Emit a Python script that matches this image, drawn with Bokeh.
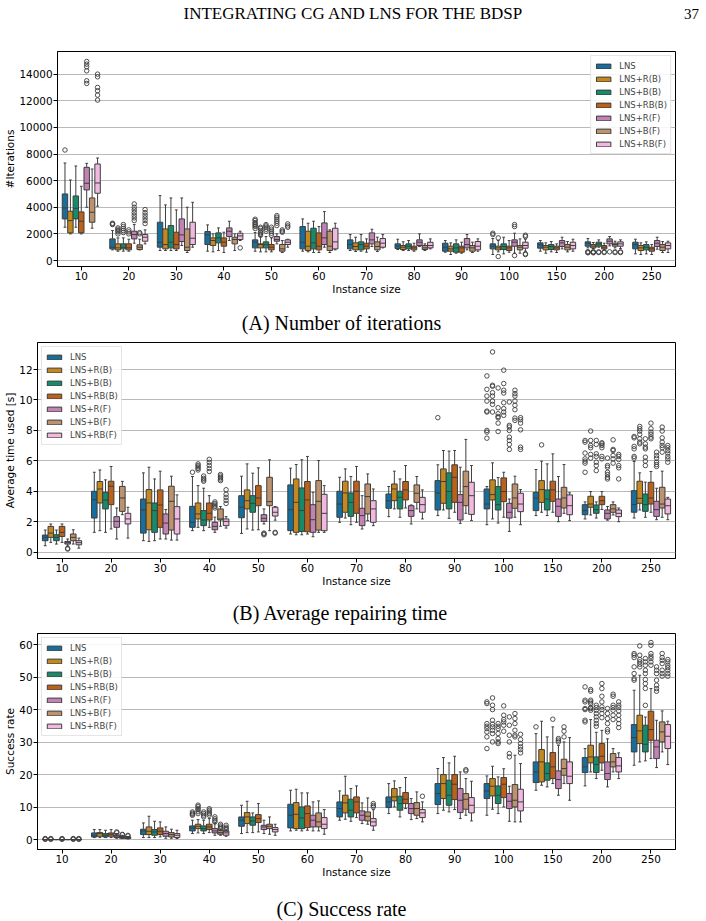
from bokeh.plotting import figure
from bokeh.layouts import column
from bokeh.models import ColumnDataSource, FactorRange, Range1d, Label, FixedTicker
from bokeh.transform import dodge
from bokeh.embed import file_html
from bokeh.resources import INLINE

GROUPS = ["10", "20", "30", "40", "50", "60", "70", "80", "90", "100", "150", "200", "250"]
SERIES = ["LNS", "LNS+R(B)", "LNS+B(B)", "LNS+RB(B)", "LNS+R(F)", "LNS+B(F)", "LNS+RB(F)"]
COLORS = ["#176D9C", "#C38820", "#168B6A", "#BA611B", "#C282B5", "#BD926E", "#F1B9E0"]
EDGE = "#3d3d3d"

# ---- number of iterations: (whisker low, q1, median, q3, whisker high) per instance size
ITER_LNS = [(2500, 3125, 3950, 5000, 7325), (800, 875, 1000, 1625, 2250), (750, 1000, 1375, 2875, 4875),
            (700, 1200, 1925, 2175, 2675), (700, 950, 1375, 1550, 2100), (700, 875, 1375, 2550, 3125),
            (750, 875, 1200, 1550, 1950), (825, 900, 1075, 1250, 1600), (625, 700, 1000, 1300, 1500),
            (450, 875, 1075, 1250, 1650), (700, 925, 1175, 1325, 1500), (950, 1075, 1300, 1400, 1650),
            (500, 875, 1200, 1375, 1600)]
ITER_R_B = [(2000, 2075, 3000, 3700, 6050), (700, 800, 950, 1250, 1700), (750, 875, 1200, 2375, 4175),
            (650, 1125, 1500, 1700, 2000), (650, 950, 1200, 1250, 1800), (650, 750, 1075, 2200, 2800),
            (675, 800, 1050, 1325, 1750), (750, 825, 1000, 1125, 1400), (450, 700, 875, 1075, 1325),
            (650, 800, 950, 1075, 1500), (550, 800, 1000, 1125, 1325), (900, 950, 1075, 1200, 1350),
            (450, 750, 950, 1125, 1325)]
ITER_B_B = [(2500, 3125, 3925, 4850, 7100), (700, 875, 1000, 1250, 1700), (750, 950, 1375, 2625, 4700),
            (750, 1325, 1700, 2075, 2450), (650, 950, 1200, 1400, 1800), (600, 875, 1325, 2425, 2950),
            (700, 800, 1200, 1400, 1950), (750, 875, 1075, 1250, 1500), (550, 625, 950, 1250, 1550),
            (500, 825, 1050, 1250, 1750), (650, 825, 1050, 1200, 1425), (1000, 1075, 1250, 1375, 1550),
            (500, 800, 1000, 1200, 1400)]
ITER_RB_B = [(2000, 2075, 2950, 3650, 5575), (700, 800, 950, 1250, 1600), (750, 875, 1200, 2125, 3800),
             (600, 1075, 1375, 1700, 2125), (650, 800, 1000, 1200, 1700), (600, 800, 1075, 2075, 2550),
             (625, 875, 1075, 1300, 1625), (700, 800, 950, 1075, 1300), (550, 625, 950, 1075, 1375),
             (625, 750, 950, 1075, 1500), (600, 800, 950, 1075, 1250), (800, 875, 1000, 1125, 1300),
             (450, 700, 875, 1000, 1200)]
ITER_R_F = [(4000, 5300, 5800, 7000, 7300), (1300, 1625, 1950, 2200, 2700), (1125, 1425, 1925, 3125, 4700),
            (1500, 1800, 2200, 2450, 2950), (1250, 1450, 1575, 1800, 2000), (1000, 1200, 1700, 2825, 3675),
            (1050, 1250, 1550, 2075, 2350), (1050, 1125, 1375, 1550, 2000), (800, 950, 1200, 1650, 1950),
            (550, 1075, 1375, 1550, 2050), (875, 1050, 1325, 1500, 1750), (1100, 1250, 1450, 1625, 1800),
            (850, 1050, 1300, 1500, 1750)]
ITER_B_F = [(2425, 2875, 3625, 4700, 6875), (800, 825, 1000, 1175, 1600), (600, 750, 1000, 2375, 4000),
            (750, 1250, 1575, 1750, 2000), (600, 700, 875, 1200, 1500), (600, 750, 1075, 2200, 2300),
            (675, 800, 1050, 1400, 1750), (750, 825, 950, 1125, 1250), (600, 700, 950, 1125, 1375),
            (550, 800, 1000, 1125, 1625), (650, 800, 1000, 1200, 1425), (950, 1075, 1200, 1300, 1450),
            (600, 750, 1000, 1200, 1425)]
ITER_RB_F = [(4075, 5050, 5825, 7250, 7700), (1250, 1450, 1750, 1950, 2300), (1000, 1200, 1675, 2875, 4375),
             (1500, 1575, 1850, 2050, 2200), (1000, 1200, 1375, 1550, 1600), (800, 875, 1400, 2425, 2800),
             (950, 1000, 1300, 1650, 1950), (875, 950, 1125, 1375, 1625), (700, 800, 1075, 1425, 1625),
             (700, 925, 1125, 1375, 1600), (700, 875, 1125, 1375, 1600), (900, 1075, 1250, 1400, 1550),
             (600, 875, 1125, 1325, 1450)]

ITER_LNS_OUT = [[8300], [2700, 2750, 2800], [], [], [2400, 2550, 2650, 2750, 2850, 3000, 3100], [], [], [], [],
                [1950, 2050], [], [580, 620, 660], []]
ITER_R_B_OUT = [[], [2000, 2150, 2250, 2350, 2450], [], [], [1900, 2000, 2100, 2250, 2400, 2500], [], [], [], [],
                [1700, 300], [], [580, 620, 660], []]
ITER_B_B_OUT = [[], [2100, 2250, 2400, 2550, 2700], [], [], [2200, 2350, 2500, 2600, 2700], [], [], [], [],
                [], [], [600, 650], []]
ITER_RB_B_OUT = [[], [2000, 2150, 2300], [], [], [1900, 2050, 2200, 2350, 2500], [], [], [], [],
                 [], [], [600, 650], []]
ITER_R_F_OUT = [[13300, 13500, 14250, 14550, 14750, 14950], [3000, 3200, 3400, 3600, 3800, 4000, 4250], [], [],
                [2625, 2800, 2950, 3100, 3250, 3375], [], [], [], [], [2550, 2700, 375], [], [650], []]
ITER_B_F_OUT = [[], [2000, 2100], [], [], [2125, 2200, 2300], [], [], [], [], [], [], [600, 650], []]
ITER_RB_F_OUT = [[12050, 12425, 12750, 13000, 13800, 14000], [2775, 3000, 3200, 3400, 3600, 3825], [], [950],
                 [2500, 2600, 2750], [], [], [], [], [1800, 1900, 500, 450], [], [600, 650], []]

# ---- average repairing time [s]
TIME_LNS = [(0.42, 0.75, 0.97, 1.12, 1.45), (1.30, 2.24, 3.45, 4.0, 5.25), (0.75, 1.25, 2.77, 3.49, 5.21),
            (1.41, 1.63, 1.96, 3.01, 4.97), (1.23, 2.26, 2.95, 3.71, 4.99), (1.19, 1.41, 2.79, 4.42, 5.52),
            (1.96, 2.29, 3.16, 4.0, 4.92), (2.33, 2.88, 3.38, 3.82, 4.31), (2.40, 2.77, 3.89, 4.70, 5.74),
            (1.80, 2.84, 3.16, 4.15, 4.31), (2.40, 2.73, 3.56, 3.93, 5.43), (2.18, 2.46, 2.73, 3.12, 3.3),
            (2.24, 2.62, 3.12, 4.04, 5.96)]
TIME_R_B = [(0.64, 0.97, 1.25, 1.69, 1.85), (1.41, 3.23, 4.15, 4.64, 5.40), (0.70, 1.47, 3.23, 4.11, 5.58),
            (1.63, 2.18, 2.51, 3.23, 4.37), (1.52, 2.84, 3.38, 4.09, 5.80), (1.14, 1.30, 3.27, 4.81, 5.76),
            (2.24, 2.62, 3.89, 4.66, 5.47), (2.84, 3.38, 4.15, 4.48, 5.32), (2.77, 3.21, 4.64, 5.47, 6.68),
            (2.18, 3.43, 3.78, 4.75, 5.87), (2.62, 3.27, 4.11, 4.70, 5.98), (2.44, 2.95, 3.16, 3.67, 3.98),
            (2.77, 3.21, 3.54, 4.66, 5.21)]
TIME_B_B = [(0.53, 0.75, 0.97, 1.14, 1.45), (1.30, 2.84, 3.43, 3.93, 4.75), (0.75, 1.30, 2.73, 3.23, 4.81),
            (1.41, 1.74, 2.11, 2.73, 4.2), (1.45, 2.62, 3.21, 3.71, 5.19), (1.14, 1.36, 2.73, 4.22, 6.07),
            (1.80, 2.35, 3.27, 3.89, 4.97), (2.29, 2.84, 3.60, 4.0, 4.81), (2.22, 2.84, 3.98, 5.21, 6.64),
            (1.91, 2.77, 3.12, 4.31, 4.9), (2.40, 2.77, 3.49, 4.09, 5.80), (2.24, 2.55, 2.79, 3.10, 3.3),
            (2.29, 2.68, 3.12, 3.82, 4.6)]
TIME_RB_B = [(0.64, 1.03, 1.30, 1.69, 1.85), (1.52, 3.12, 4.33, 4.66, 5.63), (0.86, 1.63, 3.10, 4.09, 5.32),
             (1.63, 2.11, 2.55, 3.23, 3.71), (1.47, 3.05, 3.56, 4.37, 5.54), (1.19, 1.34, 3.43, 4.64, 6.29),
             (1.96, 2.55, 4.0, 4.66, 5.63), (2.90, 3.43, 4.09, 4.64, 5.69), (2.62, 3.27, 4.92, 5.74, 6.68),
             (2.29, 3.32, 3.98, 4.88, 5.25), (2.62, 3.34, 4.09, 4.66, 6.46), (2.8, 3.12, 3.38, 3.67, 3.98),
             (2.62, 3.16, 3.56, 4.59, 5.30)]
TIME_R_F = [(0.4, 0.53, 0.62, 0.70, 0.86), (0.86, 1.63, 2.02, 2.33, 2.9), (0.86, 1.19, 1.91, 2.51, 2.8),
            (1.3, 1.47, 1.69, 1.96, 2.3), (1.85, 2.02, 2.22, 2.46, 2.84), (1.01, 1.30, 2.13, 3.12, 3.93),
            (1.52, 1.74, 2.40, 2.88, 3.71), (1.85, 2.35, 2.73, 3.05, 3.1), (1.89, 2.11, 3.27, 3.78, 5.58),
            (1.36, 2.24, 2.62, 3.21, 3.49), (2.0, 2.35, 3.01, 3.49, 4.97), (2.1, 2.18, 2.55, 2.77, 3.0),
            (2.13, 2.35, 2.79, 3.34, 4.2)]
TIME_B_F = [(0.53, 0.75, 0.97, 1.19, 1.47), (2.46, 2.68, 3.56, 4.32, 4.65), (0.79, 1.45, 3.34, 4.33, 4.99),
            (1.7, 2.11, 2.18, 2.84, 3.0), (1.41, 3.05, 3.32, 4.92, 6.07), (1.30, 1.45, 3.34, 4.70, 6.02),
            (2.07, 2.51, 3.65, 4.48, 5.14), (2.84, 3.27, 3.87, 4.42, 4.97), (2.55, 3.05, 4.31, 5.32, 7.41),
            (2.29, 2.88, 3.56, 4.48, 4.99), (2.55, 2.90, 3.56, 4.26, 5.76), (2.44, 2.62, 2.84, 3.12, 3.3),
            (2.29, 2.90, 3.16, 4.26, 5.32)]
TIME_RB_F = [(0.26, 0.48, 0.62, 0.75, 0.92), (0.92, 1.85, 2.18, 2.55, 2.95), (0.79, 1.19, 2.18, 2.99, 3.76),
             (1.58, 1.74, 2.02, 2.18, 2.33), (2.1, 2.37, 2.62, 2.95, 3.0), (1.30, 1.41, 2.55, 3.80, 4.37),
             (1.74, 1.96, 2.84, 3.38, 4.15), (2.18, 2.62, 3.12, 3.60, 4.09), (2.07, 2.48, 3.71, 4.59, 5.69),
             (1.80, 2.66, 3.16, 3.87, 4.11), (2.07, 2.46, 3.05, 3.76, 3.9), (2.0, 2.33, 2.55, 2.77, 2.9),
             (2.13, 2.51, 3.05, 3.49, 3.6)]

TIME_LNS_OUT = [[], [], [], [5.25], [], [], [], [], [8.84],
                [11.58, 10.70, 10.26, 9.93, 9.27, 9.21, 8.0, 7.89, 7.49], [],
                [7.34, 7.23, 6.51, 6.13, 5.98, 5.85, 5.25], [7.60, 7.51, 6.95, 6.79, 6.29, 6.18]]
TIME_R_B_OUT = [[], [], [], [5.4, 5.5, 5.6, 5.7, 5.8], [], [], [], [], [],
                [13.16, 10.97, 10.90, 10.48, 10.26, 9.93, 9.71, 9.21], [7.05],
                [7.96, 7.34, 7.01, 6.86, 6.42, 6.18], [8.26, 8.11, 7.96, 7.74, 7.45, 7.23, 7.12]]
TIME_B_B_OUT = [[], [], [], [4.66, 4.75, 4.85, 5.0], [], [], [], [], [],
                [10.79, 9.49, 9.10, 8.92, 8.84, 8.48, 7.93], [],
                [7.34, 7.08, 6.46, 6.29, 5.91, 5.69, 5.36], [7.45, 7.12, 6.90, 6.79, 6.24, 5.98, 5.69]]
TIME_RB_B_OUT = [[], [], [], [5.3, 5.5, 5.7, 5.9, 6.1], [], [], [], [], [],
                 [11.96, 11.08, 10.64, 10.46, 9.82, 9.43, 9.21, 8.99], [],
                 [7.19, 7.12, 7.01, 6.86, 6.29, 6.13], [8.48, 8.11, 7.89, 7.74, 7.56, 7.45]]
TIME_R_F_OUT = [[0.2, 0.25], [], [], [2.9, 3.0, 3.1, 3.2, 3.3], [1.14, 1.2, 1.25], [], [], [], [],
                [9.87, 8.33, 8.22, 8.0, 7.56, 7.34, 7.08, 6.75], [],
                [6.18, 5.69, 5.58, 5.25, 5.10, 4.92, 4.81], [6.57, 6.35, 6.18, 5.91, 5.76, 5.63]]
TIME_B_F_OUT = [[], [], [], [4.7, 4.8, 4.9, 5.0, 5.1], [], [], [], [], [],
                [10.64, 10.42, 10.26, 9.93, 9.65, 9.36, 8.81, 8.66], [],
                [7.38, 6.75, 6.68, 6.35, 6.13, 5.85], [8.22, 7.96, 7.51, 7.23, 7.01, 6.86, 6.57]]
TIME_RB_F_OUT = [[], [], [], [3.2, 3.4, 3.6, 3.8, 4.1], [1.25, 1.30], [], [], [], [],
                 [8.84, 8.70, 8.48, 8.04, 6.90, 6.75], [],
                 [6.42, 6.29, 6.09, 5.69, 5.54, 4.81], [7.01, 6.86, 6.68, 6.51, 6.29, 6.13, 5.91]]

# ---- success rate
SUCC_LNS = [(0, 0, 0, 0, 0), (0.62, 0.82, 1.33, 2.05, 3.08), (0.62, 1.54, 2.67, 3.18, 5.13),
            (1.85, 2.67, 3.59, 4.21, 5.95), (1.85, 4.10, 5.95, 6.97, 10.56), (2.67, 3.59, 7.49, 10.87, 15.18),
            (5.95, 6.97, 9.54, 11.59, 14.97), (8.0, 9.85, 11.59, 13.13, 17.23), (8.0, 10.77, 14.15, 17.23, 21.85),
            (7.49, 12.62, 14.97, 17.23, 19.59), (15.18, 17.54, 20.82, 23.90, 32.6),
            (16.51, 20.62, 22.36, 25.23, 28.0), (22.87, 26.97, 31.38, 35.38, 45.95)]
SUCC_R_B = [(0, 0, 0, 0, 0), (0.62, 1.03, 1.85, 2.15, 3.08), (0.62, 1.54, 2.56, 3.90, 7.18),
            (2.05, 3.38, 4.10, 4.72, 6.15), (2.15, 4.92, 6.97, 8.31, 11.79), (2.87, 3.38, 7.79, 11.38, 15.49),
            (6.26, 8.21, 11.28, 13.64, 19.49), (10.05, 11.90, 13.13, 15.69, 18.05),
            (9.03, 12.62, 17.23, 20.0, 25.23), (9.33, 13.44, 16.41, 18.77, 22.56),
            (16.72, 17.74, 23.90, 27.69, 36.41), (20.82, 23.59, 25.44, 29.03, 36.92),
            (23.90, 29.54, 33.44, 38.26, 50.56)]
SUCC_B_B = [(0, 0, 0, 0, 0), (0.62, 0.82, 1.33, 1.85, 2.87), (0.62, 1.33, 2.36, 3.08, 5.64),
            (1.85, 2.67, 3.38, 4.21, 5.95), (2.15, 4.41, 5.74, 6.97, 8.2), (2.67, 3.38, 6.67, 10.05, 14.36),
            (5.64, 6.97, 9.03, 12.41, 15.69), (6.97, 9.03, 11.08, 13.33, 16.0), (8.51, 10.56, 13.64, 18.26, 23.59),
            (8.0, 11.08, 13.64, 16.51, 19.28), (16.21, 18.26, 20.31, 23.59, 31.59),
            (18.77, 20.62, 23.08, 25.44, 33.0), (24.21, 26.97, 29.33, 35.18, 37.7)]
SUCC_RB_B = [(0, 0, 0, 0, 0), (0.62, 1.03, 1.64, 2.05, 3.08), (0.82, 1.54, 2.56, 3.59, 5.44),
             (2.15, 3.08, 3.90, 4.72, 6.46), (2.36, 5.23, 6.46, 7.69, 11.08), (2.87, 3.69, 8.0, 10.36, 14.36),
             (6.77, 8.21, 11.59, 13.13, 16.51), (9.54, 11.08, 12.41, 14.46, 19.08),
             (9.23, 12.31, 17.03, 20.0, 25.64), (10.05, 12.92, 17.03, 19.08, 21.8),
             (17.23, 18.77, 22.36, 26.77, 34.67), (21.33, 23.59, 25.64, 29.54, 33.6),
             (24.92, 30.56, 33.85, 39.49, 46.46)]
SUCC_R_F = [(0, 0, 0, 0, 0), (0.41, 0.62, 1.03, 1.33, 1.85), (0.41, 1.03, 1.85, 2.56, 3.90),
            (1.33, 2.05, 2.67, 3.38, 5.0), (1.85, 3.08, 3.90, 4.41, 5.95), (2.67, 3.90, 5.95, 7.49, 11.59),
            (4.92, 5.95, 7.49, 8.82, 11.28), (6.15, 8.0, 9.54, 11.08, 12.62), (6.46, 8.31, 12.10, 15.69, 20.82),
            (5.64, 9.54, 11.79, 14.15, 16.41), (13.64, 15.69, 18.46, 21.13, 29.0),
            (16.21, 18.46, 20.31, 23.90, 31.0), (22.15, 24.92, 28.51, 30.56, 36.7)]
SUCC_B_F = [(0, 0, 0, 0, 0), (0.31, 0.41, 0.62, 1.03, 1.33), (0.41, 0.82, 1.54, 2.15, 3.18),
            (1.33, 1.64, 2.15, 2.87, 3.2), (1.64, 3.38, 4.10, 4.72, 6.97), (2.67, 3.90, 5.44, 8.21, 11.9),
            (4.72, 5.74, 7.18, 8.51, 12.82), (6.46, 7.49, 9.54, 11.38, 14.67), (7.49, 9.33, 12.41, 14.15, 18.77),
            (5.44, 10.05, 12.10, 16.92, 25.95), (17.23, 19.79, 21.85, 24.72, 30.05),
            (20.82, 22.36, 23.90, 26.46, 28.0), (26.97, 30.05, 33.13, 36.21, 39.59)]
SUCC_RB_F = [(0, 0, 0, 0, 0), (0.21, 0.31, 0.51, 0.82, 0.95), (0.31, 0.62, 1.33, 1.85, 2.87),
             (1.03, 1.33, 2.05, 2.67, 2.9), (1.33, 2.36, 3.08, 3.69, 4.72), (1.64, 3.38, 4.72, 6.77, 9.23),
             (2.87, 4.21, 5.44, 6.46, 9.2), (5.44, 6.77, 8.21, 9.23, 11.6), (5.74, 8.21, 10.56, 12.92, 17.95),
             (5.44, 8.82, 11.59, 15.49, 23.38), (12.10, 17.23, 19.49, 23.90, 31.38),
             (18.77, 20.82, 22.67, 25.23, 26.67), (23.08, 28.0, 31.79, 35.38, 36.41)]

SUCC_LNS_OUT = [[0.1, 0.2, 0.3], [], [], [7.5, 7.8, 8.1, 8.5], [], [], [], [], [],
                [42.36, 41.85, 35.69, 34.87, 34.15, 33.13, 31.59, 28.0], [34.67],
                [46.97, 42.87, 42.36, 40.31, 40.0, 36.72, 36.21], [57.23, 56.72, 56.0, 53.13, 51.08, 49.54, 49.03]]
SUCC_R_B_OUT = [[0.1, 0.2, 0.3], [], [], [8.0, 8.6, 9.2, 9.6, 10.2, 10.6], [], [], [], [], [],
                [43.59, 41.33, 40.0, 36.72, 35.49, 34.67, 33.64, 32.62, 30.05], [],
                [46.15, 45.64, 42.87, 42.36, 41.85, 40.62, 40.31, 39.79],
                [59.59, 56.72, 55.38, 54.67, 53.95, 53.13]]
SUCC_B_B_OUT = [[], [], [], [7.0, 7.5, 8.0, 8.5], [], [], [], [], [],
                [35.69, 34.87, 34.15, 32.62, 31.08, 30.05, 29.54], [],
                [41.33, 40.62, 39.79, 38.77, 37.74, 36.72, 35.69, 34.87],
                [55.69, 54.67, 53.64, 52.1, 51.08, 49.23, 48.0, 46.5, 41.3]]
SUCC_RB_B_OUT = [[0.1, 0.2, 0.3], [], [], [7.5, 8.0, 8.5, 9.0, 9.5], [], [], [], [], [],
                 [41.13, 38.26, 36.92, 36.21, 35.18, 33.33], [37.03],
                 [48.0, 46.46, 44.1, 42.36, 40.82, 40.0, 38.8, 37.5],
                 [60.62, 59.79, 57.23, 56.41, 55.69, 54.67, 53.64]]
SUCC_R_F_OUT = [[], [2.1, 2.36], [], [5.4, 5.9, 6.4, 7.0], [], [], [], [], [],
                [37.74, 35.18, 32.1, 30.05, 26.46, 25.44], [30.05, 30.6, 31.08],
                [40.31, 38.77, 37.23, 35.69, 33.85, 33.13], [53.13, 52.1, 51.08, 49.03, 47.49, 46.46, 45.64]]
SUCC_B_F_OUT = [[0.1, 0.2, 0.3], [1.5, 1.6], [], [3.4, 3.8, 4.2, 4.7], [], [], [], [], [21.1, 21.5],
                [38.77, 37.23, 35.69, 33.64, 32.1, 31.59], [34.67, 33.33, 31.59],
                [44.72, 44.1, 41.33, 40.62, 39.79, 38.26, 36.92], [57.23, 56.0, 55.18, 54.15, 52.1, 51.08, 50.26]]
SUCC_RB_F_OUT = [[0.1, 0.2, 0.3], [1.1, 1.3], [], [3.0, 3.4, 3.8, 4.4], [], [], [10.05, 10.5, 11.08], [13.33], [],
                 [32.4, 30.77, 29.54, 28.51, 27.69, 26.67], [],
                 [42.36, 41.33, 40.62, 39.59, 38.26, 36.92, 35.69, 34.46],
                 [55.38, 54.67, 53.64, 52.92, 52.1, 51.08, 50.26]]

ITER_STATS = [ITER_LNS, ITER_R_B, ITER_B_B, ITER_RB_B, ITER_R_F, ITER_B_F, ITER_RB_F]
ITER_OUTS = [ITER_LNS_OUT, ITER_R_B_OUT, ITER_B_B_OUT, ITER_RB_B_OUT, ITER_R_F_OUT, ITER_B_F_OUT, ITER_RB_F_OUT]
TIME_STATS = [TIME_LNS, TIME_R_B, TIME_B_B, TIME_RB_B, TIME_R_F, TIME_B_F, TIME_RB_F]
TIME_OUTS = [TIME_LNS_OUT, TIME_R_B_OUT, TIME_B_B_OUT, TIME_RB_B_OUT, TIME_R_F_OUT, TIME_B_F_OUT, TIME_RB_F_OUT]
SUCC_STATS = [SUCC_LNS, SUCC_R_B, SUCC_B_B, SUCC_RB_B, SUCC_R_F, SUCC_B_F, SUCC_RB_F]
SUCC_OUTS = [SUCC_LNS_OUT, SUCC_R_B_OUT, SUCC_B_B_OUT, SUCC_RB_B_OUT, SUCC_R_F_OUT, SUCC_B_F_OUT, SUCC_RB_F_OUT]

SANS = "DejaVu Sans"
SERIF = "Liberation Serif"
PAGE_W = 706
RIGHT = 31


def text_strip(height, left, right, items):
    """A blank strip carrying running-head / caption text; its x range equals page pixels."""
    s = figure(width=PAGE_W, height=height, x_range=Range1d(left, PAGE_W - right),
               y_range=Range1d(0, height), output_backend="svg", toolbar_location=None, title=None,
               x_axis_type=None, y_axis_type=None, min_border_left=left, min_border_right=right,
               min_border_top=0, min_border_bottom=0,
               outline_line_color=None, background_fill_color="white", border_fill_color="white")
    s.grid.visible = False
    for x, y_from_top, txt, size in items:
        s.add_layout(Label(x=x, y=height - y_from_top, text=txt, text_font=SERIF, text_font_size=size,
                           text_align="center", text_baseline="middle", text_color="black"))
    return s


def draw_boxes(p, stats, outs):
    n = len(SERIES)
    step = 0.8 / n
    for k in range(n):
        off = (k - (n - 1) / 2) * step
        lo, q1, q2, q3, hi = (list(c) for c in zip(*stats[k]))
        src = ColumnDataSource(dict(g=GROUPS, lo=lo, q1=q1, q2=q2, q3=q3, hi=hi))
        xc = dodge("g", off, range=p.x_range)
        xl = dodge("g", off - step / 2, range=p.x_range)
        xr = dodge("g", off + step / 2, range=p.x_range)
        cl = dodge("g", off - step / 4, range=p.x_range)
        cr = dodge("g", off + step / 4, range=p.x_range)
        line = dict(source=src, line_color=EDGE, line_width=1)
        p.segment(x0=xc, y0="q3", x1=xc, y1="hi", **line)
        p.segment(x0=xc, y0="q1", x1=xc, y1="lo", **line)
        p.segment(x0=cl, y0="hi", x1=cr, y1="hi", **line)
        p.segment(x0=cl, y0="lo", x1=cr, y1="lo", **line)
        p.vbar(x=xc, width=step, bottom="q1", top="q3", fill_color=COLORS[k],
               legend_label=SERIES[k], **line)
        p.segment(x0=xl, y0="q2", x1=xr, y1="q2", **line)
        og, ov = [], []
        for g, vals in zip(GROUPS, outs[k]):
            og += [g] * len(vals)
            ov += vals
        osrc = ColumnDataSource(dict(g=og, v=ov))
        p.scatter(x=dodge("g", off, range=p.x_range), y="v", source=osrc, marker="circle",
                  size=4.5, fill_color=None, line_color=EDGE, line_width=0.9)


def make_panel(stats, outs, y0, y1, yticks, ylabel, height, left, top, bottom, legend_loc):
    p = figure(width=PAGE_W, height=height, x_range=FactorRange(*GROUPS), y_range=Range1d(y0, y1),
               output_backend="svg", toolbar_location=None, title=None,
               min_border_left=left, min_border_right=RIGHT, min_border_top=top,
               min_border_bottom=bottom, background_fill_color="white", border_fill_color="white")
    p.outline_line_color = "black"
    p.outline_line_width = 1
    p.outline_line_alpha = 1
    p.xgrid.grid_line_color = None
    p.ygrid.grid_line_color = "#b9b9b9"
    p.ygrid.grid_line_width = 1
    p.yaxis.ticker = FixedTicker(ticks=yticks)
    p.xaxis.axis_label = "Instance size"
    p.yaxis.axis_label = ylabel
    for ax in (p.xaxis[0], p.yaxis[0]):
        ax.axis_label_text_font = SANS
        ax.axis_label_text_font_size = "10.5px"
        ax.axis_label_text_font_style = "normal"
        ax.axis_label_text_color = "black"
        ax.major_label_text_font = SANS
        ax.major_label_text_font_size = "10.4px"
        ax.major_label_text_color = "black"
        ax.major_tick_out = 4
        ax.major_tick_in = 0
        ax.minor_tick_out = 0
        ax.minor_tick_in = 0
        ax.axis_line_color = "black"
        ax.major_tick_line_color = "black"
        ax.major_label_standoff = 1
        ax.axis_label_standoff = 0

    draw_boxes(p, stats, outs)

    lg = p.legend[0]
    lg.location = legend_loc
    lg.label_text_font = SANS
    lg.label_text_font_size = "8.5px"
    lg.glyph_width = 18
    lg.glyph_height = 6
    lg.label_height = 13
    lg.label_standoff = 7
    lg.spacing = 0
    lg.padding = 3
    lg.margin = 4
    lg.border_line_color = "#cccccc"
    lg.border_line_width = 1
    lg.background_fill_alpha = 0.85
    return p


head = text_strip(30, 0, 0, [(353, 13, "INTEGRATING CG AND LNS FOR THE BDSP", "17px"),
                             (691, 13, "37", "15px")])

p1 = make_panel(ITER_STATS, ITER_OUTS, -450, 15700, list(range(0, 14001, 2000)), "#Iterations",
                272, 57, 21, 36, "top_right")
cap_a = text_strip(38, 57, RIGHT, [(341, 20, "(A) Number of iterations", "20px")])

p2 = make_panel(TIME_STATS, TIME_OUTS, -0.42, 13.78, list(range(0, 13, 2)), "Average time used [s]",
                252, 37, 2, 34, "top_left")
cap_b = text_strip(36, 37, RIGHT, [(340, 20, "(B) Average repairing time", "20px")])

p3 = make_panel(SUCC_STATS, SUCC_OUTS, -3.05, 63.4, list(range(0, 61, 10)), "Success rate",
                255, 37, 5, 34, "top_left")
cap_c = text_strip(38, 37, RIGHT, [(341, 25, "(C) Success rate", "20px")])

# three independent blocks, so that each block keeps its own plot margins
layout = column(column(head), column(p1, cap_a), column(p2, cap_b, p3, cap_c), spacing=0)
open("out.html", "w").write(file_html(layout, INLINE))
